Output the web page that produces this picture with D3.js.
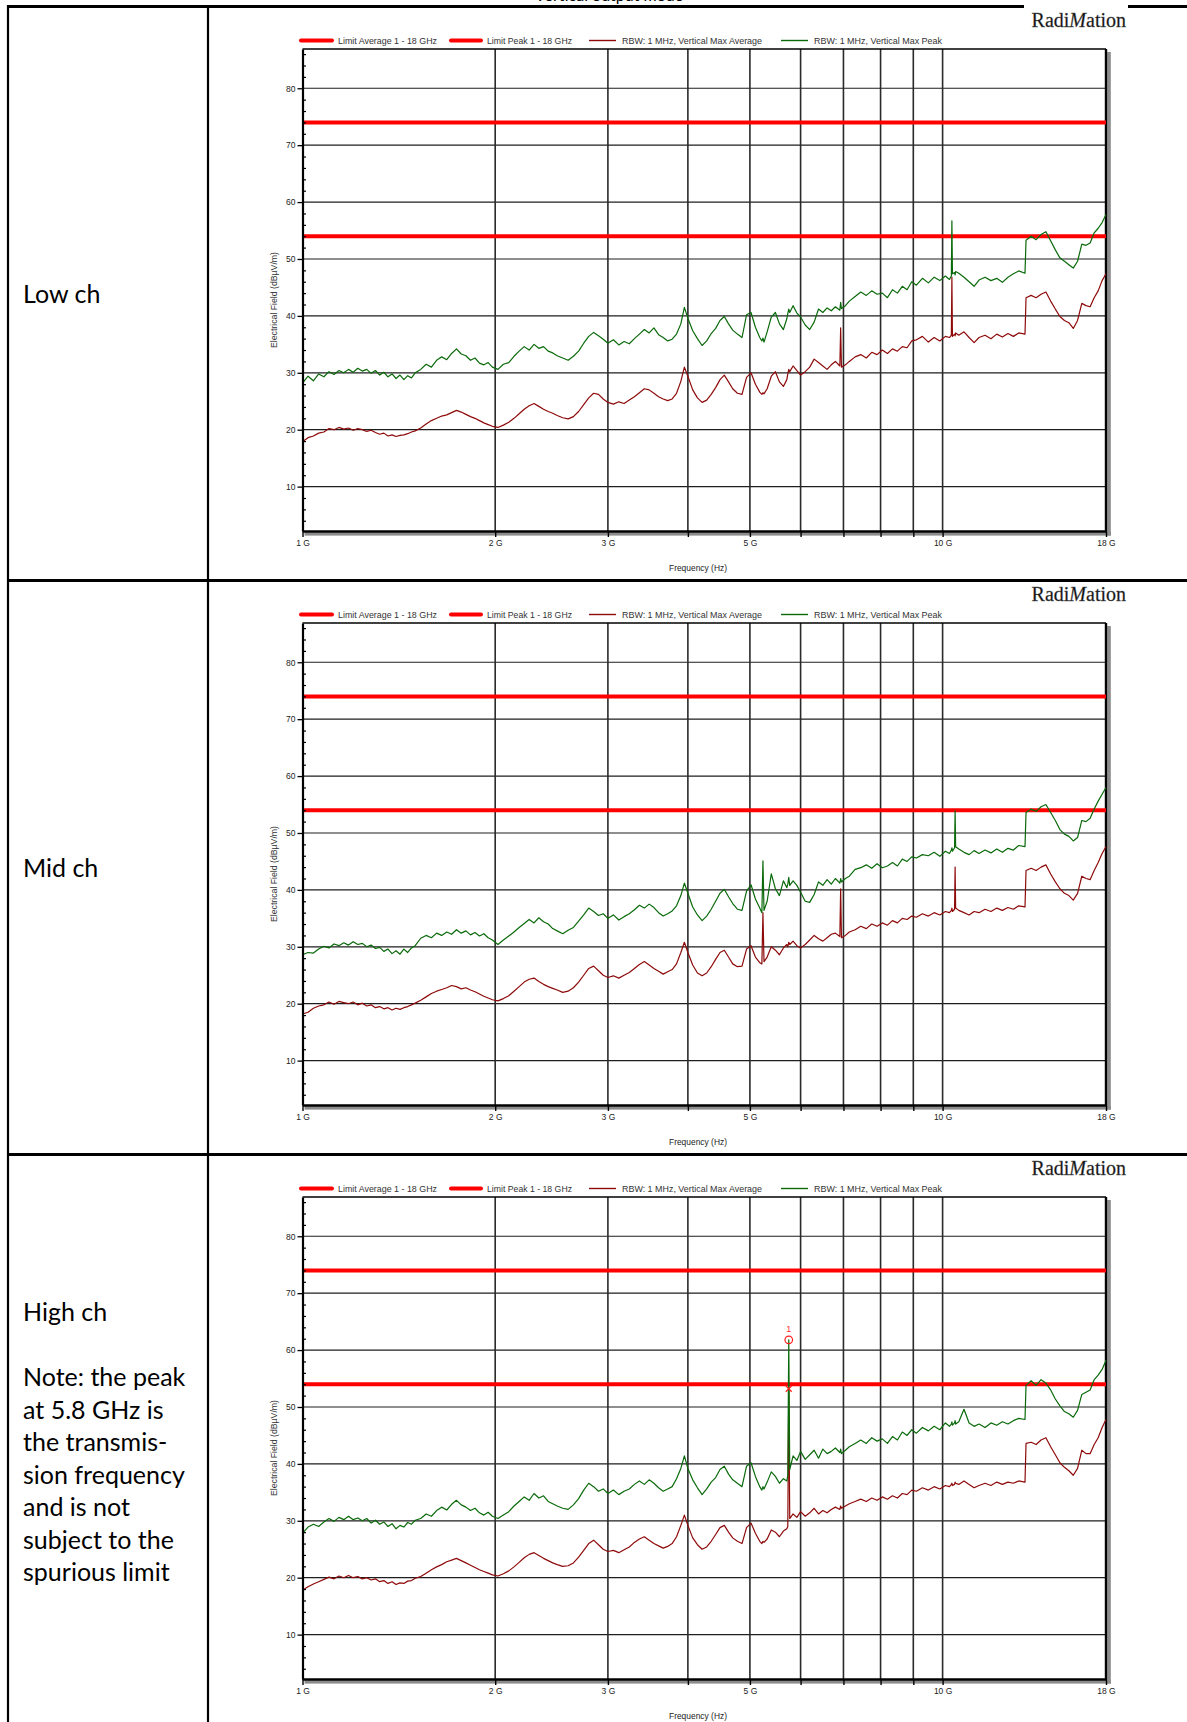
<!DOCTYPE html>
<html>
<head>
<meta charset="utf-8">
<script src="https://cdn.jsdelivr.net/npm/d3@7"></script>
<style>
  body { margin: 0; background: #fff; }
  svg { display: block; }
</style>
</head>
<body>
<script>
// * DATA (frequency grid in GHz, levels in dBµV/m)
const freqGHz = [
  1.00, 1.02, 1.04, 1.06, 1.08, 1.10, 1.12, 1.14, 1.16, 1.18, 1.20, 1.22, 1.24, 1.26, 1.28, 1.30, 1.32, 1.34, 1.36, 1.38, 1.40, 1.42, 1.44, 1.46, 1.48, 1.50,
  1.53, 1.56, 1.59, 1.62, 1.65, 1.68, 1.71, 1.74, 1.77, 1.80, 1.83, 1.86, 1.89, 1.92, 1.95, 1.98,
  2.02, 2.06, 2.10, 2.14, 2.18, 2.22, 2.26, 2.30, 2.34, 2.38, 2.42, 2.46,
  2.50, 2.55, 2.60, 2.65, 2.70, 2.75, 2.80, 2.85, 2.90, 2.95,
  3.00, 3.06, 3.12, 3.18, 3.24, 3.30, 3.36, 3.42, 3.48, 3.54, 3.60, 3.66, 3.72, 3.78, 3.84, 3.90,
  3.95, 4.00,
  4.07, 4.14, 4.21, 4.28, 4.35, 4.42, 4.49, 4.56, 4.63, 4.70,
  4.78, 4.86, 4.94, 5.02, 5.10, 5.18,
  5.22, 5.24, 5.26,
  5.32, 5.40, 5.48, 5.56, 5.64, 5.71,
  5.73, 5.75, 5.77,
  5.84, 5.92, 6.00, 6.10, 6.20, 6.30, 6.40, 6.50, 6.60, 6.70, 6.80,
  6.91, 6.93, 6.95,
  7.05, 7.15, 7.30, 7.45, 7.60, 7.75, 7.90, 8.05, 8.20, 8.35, 8.50, 8.65, 8.80, 8.95, 9.10, 9.30, 9.50, 9.70, 9.90, 10.10,
  10.25, 10.32, 10.34, 10.36,
  10.44, 10.46, 10.48,
  10.60, 10.80, 11.00, 11.20, 11.40, 11.65, 11.90, 12.15, 12.40, 12.65, 12.90, 13.15, 13.45,
  13.50,
  13.75, 14.00, 14.25, 14.50, 14.75, 15.00, 15.25, 15.50, 15.75, 16.00, 16.25, 16.50, 16.75, 17.00, 17.25, 17.50, 17.75, 18.00
];

const lowPeak = [
  28.2, 29.4, 28.6, 29.8, 29.3, 30.2, 29.7, 30.4, 30.0, 30.6, 30.1, 30.8, 30.3, 30.6, 29.9, 30.4, 29.6, 30.1, 29.3, 29.8, 29.0, 29.6, 28.8, 29.5, 29.1, 30.0,
  30.6, 31.5, 31.0, 32.2, 32.8, 32.3, 33.4, 34.2, 33.3, 33.0, 32.2, 32.6, 31.7, 31.4, 31.8, 31.0,
  30.6, 31.5, 31.8, 32.9, 33.8, 34.6, 34.0, 35.0, 34.3, 34.6, 33.8, 33.5,
  33.0, 32.6, 32.2, 32.9, 33.8, 35.2, 36.4, 37.1, 36.5, 35.9,
  35.2, 35.8, 34.9, 35.5, 35.1, 36.0, 36.8, 37.6, 37.0, 37.9, 36.7, 36.2, 35.6, 35.9, 36.8, 38.6,
  41.5, 39.6,
  37.4, 36.0, 34.8, 35.6, 36.9, 37.8, 39.2, 39.9, 38.6, 37.5,
  36.8, 36.2, 40.2, 40.6, 38.0, 36.2,
  35.6, 36.1, 35.4,
  37.2, 39.8, 40.6, 38.6, 37.6, 39.5,
  40.4, 41.2, 40.6,
  41.8, 40.5, 39.8, 38.4, 37.6, 38.9, 41.2, 40.6, 41.4, 40.9, 41.6,
  41.0, 42.4, 41.3,
  41.8, 42.6, 43.4, 44.2, 43.6, 44.4, 43.8, 44.0, 43.2, 44.6, 44.0, 45.2, 44.6, 46.0, 45.4, 46.6, 45.8, 46.8, 46.2, 47.0,
  46.4, 47.0, 56.7, 47.4,
  47.6, 47.2, 47.8,
  47.5, 46.8, 46.0, 45.2, 46.3, 46.8, 46.2, 46.6, 45.9, 46.8, 47.4, 47.9, 47.5,
  53.3,
  54.0, 53.4, 54.3, 54.8, 53.2, 51.6, 50.2, 49.6, 49.0, 48.4, 49.6, 52.6, 52.4, 52.8, 54.6, 55.4, 56.4, 57.8
];
const lowAvg = [
  17.9, 18.6, 18.9, 19.4, 19.6, 20.2, 20.0, 20.4, 20.1, 20.3, 19.9, 20.2, 20.0, 19.7, 19.9, 19.5, 19.2, 19.4, 18.9, 19.1, 18.8, 19.0, 19.1, 19.3, 19.6, 19.8,
  20.3, 21.0, 21.6, 22.0, 22.4, 22.6, 23.0, 23.4, 23.1, 22.7, 22.3, 22.0, 21.6, 21.2, 20.9, 20.6,
  20.4, 20.8, 21.3, 22.0, 22.8, 23.6, 24.2, 24.6, 24.1, 23.6, 23.2, 22.9,
  22.5, 22.1, 21.9, 22.3, 23.2, 24.4, 25.6, 26.4, 26.2, 25.4,
  24.8, 24.5, 24.9, 24.6, 25.2, 25.8, 26.5, 27.2, 27.0, 26.4, 25.8, 25.4, 25.1, 25.4, 26.4, 28.5,
  31.0, 29.4,
  27.0, 25.6, 24.8, 25.2, 26.2, 27.4, 28.8, 29.6, 28.4, 27.2,
  26.4, 26.2, 29.2, 30.0, 28.0, 26.6,
  26.2, 26.5, 26.3,
  27.2, 29.4, 30.2, 28.4, 27.6, 28.8,
  29.8, 30.6, 30.2,
  31.2, 30.4, 29.6, 30.2, 31.0, 32.4, 31.8, 31.2, 30.6, 31.4, 32.0,
  31.2, 37.9, 31.0,
  31.4, 32.0, 32.8, 33.2, 32.6, 33.6, 33.2, 34.0, 33.4, 34.2, 33.8, 34.6, 34.4, 35.6, 35.8, 36.4, 35.4, 36.2, 35.6, 36.4,
  36.2, 36.6, 46.8, 36.4,
  36.8, 36.5, 37.0,
  36.6, 37.2, 36.2, 35.3, 36.2, 36.6, 36.0, 36.8, 36.3, 36.9, 36.4, 37.0, 36.8,
  43.2,
  43.6, 43.2, 43.8, 44.2, 42.6, 41.2, 39.9, 39.2, 38.8, 37.8, 39.2, 42.2, 41.8, 41.6, 43.2, 44.4, 46.2, 47.4
];

const midPeak = [
  28.6, 29.0, 28.9, 29.6, 30.1, 29.8, 30.5, 30.2, 30.7, 30.3, 30.9, 30.4, 30.6, 30.0, 30.3, 29.7, 29.9, 29.2, 29.6, 28.8, 29.3, 28.7, 29.6, 29.0, 29.8, 30.2,
  31.5, 32.0, 31.6, 32.4, 32.0, 32.6, 32.2, 33.0, 32.4, 32.8, 32.1, 32.5, 31.9, 32.3, 31.6, 31.2,
  30.4, 31.2, 31.9, 32.6, 33.4, 34.1, 34.8, 34.2, 35.1, 34.4, 34.0, 33.2,
  32.8, 32.3, 32.9, 33.4, 34.5, 35.6, 36.8, 36.2, 35.5, 35.8,
  35.0, 35.6, 34.7, 35.3, 35.8, 36.5, 37.3, 36.8, 37.5, 36.9, 36.0, 35.4, 35.8, 36.3, 37.2, 39.0,
  41.2, 39.4,
  37.0, 35.6, 34.6, 35.4, 36.6, 38.0, 39.4, 40.1, 38.8, 37.6,
  36.6, 36.4, 39.8, 40.9, 38.4, 36.8,
  36.0, 45.1, 36.4,
  38.0, 42.8, 40.2, 39.0, 41.6, 40.4,
  41.0, 42.2, 40.8,
  41.6, 40.8, 39.6, 38.0, 37.8, 39.2, 41.4, 40.8, 41.8, 41.0, 42.0,
  41.2, 42.0, 41.4,
  42.0, 42.4, 43.6, 43.9, 44.4, 43.8, 44.6, 43.9, 44.2, 44.8, 44.2, 45.4, 45.0, 45.8, 45.6, 46.2, 46.0, 46.6, 45.9, 46.8,
  46.4, 47.0, 47.4, 46.8,
  47.4, 53.9, 47.6,
  47.2, 46.6, 46.2, 46.9, 46.4, 47.0, 46.5, 47.2, 46.6, 47.3, 47.0, 47.8, 47.6,
  53.6,
  54.2, 53.8, 54.6, 55.0, 53.6, 52.2, 50.6, 49.8, 49.4, 48.6, 49.2, 52.2, 52.0, 52.6, 54.2, 55.6, 56.8, 58.0
];
const midAvg = [
  18.2, 18.5, 19.2, 19.6, 19.8, 20.3, 19.9, 20.4, 20.2, 20.0, 20.3, 19.8, 20.1, 19.6, 19.8, 19.3, 19.5, 19.1, 19.3, 18.9, 19.2, 19.0, 19.3, 19.5, 19.8, 20.1,
  20.6, 21.2, 21.8, 22.2, 22.5, 22.8, 23.2, 23.0, 22.6, 22.8, 22.4, 22.1, 21.7, 21.3, 21.0, 20.7,
  20.5, 20.9, 21.4, 22.2, 23.0, 23.8, 24.3, 24.5, 23.9, 23.4, 23.0, 22.7,
  22.4, 22.0, 22.2, 22.8, 23.8, 25.0, 26.2, 26.6, 25.8, 25.0,
  24.6, 24.9, 24.5, 25.0, 25.5, 26.2, 26.9, 27.4, 26.8, 26.2, 25.7, 25.2, 25.6, 26.0, 27.0, 29.0,
  30.8, 29.0,
  26.8, 25.4, 24.9, 25.4, 26.5, 27.8, 29.0, 29.4, 28.2, 27.0,
  26.5, 26.6, 29.6, 30.2, 28.2, 27.2,
  27.0, 36.0, 27.4,
  28.2, 30.0, 29.4, 28.6, 29.8, 30.4,
  30.0, 30.8, 30.4,
  31.0, 30.2, 29.8, 30.4, 31.2, 32.0, 31.4, 31.0, 31.6, 32.2, 32.4,
  31.8, 40.2, 31.6,
  32.0, 32.6, 33.0, 33.6, 33.2, 34.0, 33.6, 34.2, 33.8, 34.6, 34.2, 35.0, 34.8, 35.4, 35.2, 35.8, 35.4, 36.0, 35.6, 36.2,
  36.0, 36.4, 36.8, 36.2,
  36.6, 44.0, 36.8,
  36.4, 36.0, 35.6, 36.2, 36.0, 36.6, 36.2, 36.8, 36.4, 36.9, 36.6, 37.2, 37.0,
  43.4,
  43.8, 43.4, 44.0, 44.4, 42.8, 41.4, 40.2, 39.4, 39.0, 38.2, 39.4, 42.4, 42.0, 41.8, 43.4, 44.8, 46.4, 47.6
];

const highPeak = [
  27.8, 28.9, 29.4, 29.0, 29.8, 30.4, 29.9, 30.6, 30.2, 30.8, 30.2, 30.5, 30.0, 30.4, 29.6, 30.1, 29.4, 29.8, 29.0, 29.5, 28.6, 29.2, 28.9, 29.7, 29.4, 30.1,
  30.4, 31.2, 30.8, 31.8, 32.4, 31.9, 32.9, 33.6, 32.8, 32.4, 31.8, 32.2, 31.4, 31.0, 31.5, 30.8,
  30.4, 31.0, 31.6, 32.6, 33.4, 34.2, 33.6, 34.8, 34.0, 34.4, 33.4, 33.0,
  32.6, 32.2, 32.0, 32.8, 33.9, 35.4, 36.6, 36.0, 35.2, 35.6,
  34.8, 35.4, 34.6, 35.2, 35.6, 36.4, 37.0, 36.4, 37.2, 36.6, 35.8, 35.2, 35.6, 36.0, 37.4, 39.2,
  41.4, 39.2,
  37.2, 35.8, 34.6, 35.6, 36.8, 37.6, 39.0, 39.6, 38.2, 37.2,
  36.6, 36.0, 39.6, 40.2, 37.8, 36.0,
  35.4, 36.0, 35.6,
  36.8, 38.6, 37.8, 36.6, 37.4, 37.0,
  38.0, 61.8, 39.0,
  41.4, 40.6, 42.2, 40.8, 41.6, 42.4, 41.0, 42.6, 41.8, 42.2, 42.8,
  42.0, 42.6, 41.8,
  42.4, 43.0, 43.6, 44.2, 43.6, 44.6, 44.0, 44.4, 43.6, 44.8, 44.2, 45.6, 45.0, 46.0, 45.4, 46.4, 45.8, 46.6, 46.0, 47.2,
  46.6, 47.0, 47.4, 46.8,
  47.2, 47.6, 47.0,
  47.4, 49.6, 47.2, 46.6, 47.0, 46.4, 47.2, 46.8, 47.4, 47.0, 47.6, 48.0, 47.8,
  53.8,
  54.6, 53.8, 54.8, 54.2, 53.0, 51.4, 50.2, 49.2, 48.8, 48.2, 49.4, 52.2, 52.6, 53.0, 54.8, 55.6, 56.6, 58.2
];
const highAvg = [
  17.8, 18.4, 18.9, 19.3, 19.7, 20.1, 19.8, 20.3, 20.0, 20.4, 20.0, 20.2, 19.8, 20.0, 19.6, 19.8, 19.3, 19.5, 19.0, 19.3, 18.8, 19.1, 19.0, 19.4, 19.5, 19.9,
  20.2, 20.8, 21.4, 21.9, 22.3, 22.8, 23.1, 23.4, 23.0, 22.6, 22.2, 21.8, 21.4, 21.1, 20.8, 20.5,
  20.3, 20.7, 21.2, 21.9, 22.7, 23.5, 24.1, 24.4, 23.9, 23.4, 23.0, 22.6,
  22.3, 22.0, 22.1, 22.6, 23.6, 24.8, 26.0, 26.6, 25.8, 25.0,
  24.6, 24.8, 24.4, 24.9, 25.4, 26.2, 26.8, 27.2, 26.6, 26.0, 25.6, 25.2, 25.5, 26.0, 27.2, 29.2,
  31.0, 29.2,
  27.0, 25.8, 25.0, 25.4, 26.4, 27.6, 28.8, 29.2, 28.0, 27.0,
  26.4, 26.0, 28.8, 29.6, 27.8, 26.4,
  26.0, 26.4, 26.2,
  26.8, 28.4, 28.0, 27.2, 28.2, 28.6,
  29.0, 53.2, 30.4,
  31.2, 30.6, 31.6, 30.8, 31.4, 32.2, 31.2, 31.8, 31.4, 32.0, 32.4,
  32.0, 32.6, 32.2,
  32.6, 33.0, 33.4, 33.8, 33.4, 34.0, 33.6, 34.2, 33.8, 34.4, 34.0, 34.8, 34.6, 35.4, 35.2, 35.8, 35.4, 36.0, 35.6, 36.2,
  36.0, 36.4, 36.6, 36.2,
  36.4, 36.8, 36.6,
  36.4, 37.0, 36.4, 35.8, 36.2, 36.6, 36.2, 36.8, 36.4, 36.8, 36.6, 37.0, 36.8,
  43.6,
  43.8, 43.4, 44.2, 44.6, 43.0, 41.6, 40.2, 39.4, 38.8, 38.0, 39.2, 42.4, 41.8, 41.8, 43.4, 44.6, 46.4, 47.8
];

const limitAverage = 54;
const limitPeak = 74;
const highMarker = { freq: 5.75, peak: 61.8, avg: 53.2, label: "1" };

const yTicks = [10, 20, 30, 40, 50, 60, 70, 80];
const yMinorTicks = [4, 6, 8, 12, 14, 16, 18, 22, 24, 26, 28, 32, 34, 36, 38, 42, 44, 46, 48, 52, 54, 56, 58, 62, 64, 66, 68, 72, 74, 76, 78, 82, 84, 86];
const xGridGHz = [1, 2, 3, 4, 5, 6, 7, 8, 9, 10, 18];
const xLabelGHz = [1, 2, 3, 5, 10, 18];
const legendLabels = ["Limit Average 1 - 18 GHz", "Limit Peak 1 - 18 GHz", "RBW: 1 MHz, Vertical Max Average", "RBW: 1 MHz, Vertical Max Peak"];
const rowNames = ["Low ch", "Mid ch", "High ch"];
const noteLines = ["Note: the peak", "at 5.8 GHz is", "the transmis-", "sion frequency", "and is not", "subject to the", "spurious limit"];

// * LAYOUT
const W = 1187, H = 1722;
const rowStep = 574;
const rowTop = 6.5;
const colX = [8, 208];
const avgColor = "#8e0a0a", peakColor = "#0a6a0a", limitColor = "#ff0000";
const smallFont = "Liberation Sans, Arial, sans-serif";

const series = [
  { name: rowNames[0], avg: lowAvg, peak: lowPeak },
  { name: rowNames[1], avg: midAvg, peak: midPeak },
  { name: rowNames[2], avg: highAvg, peak: highPeak, marker: highMarker }
];
series.forEach((s) => {
  if (s.avg.length !== freqGHz.length || s.peak.length !== freqGHz.length)
    console.error("length mismatch", s.name, s.avg.length, s.peak.length, freqGHz.length);
});

const svg = d3.select("body").append("svg").attr("width", W).attr("height", H);

// * TITLE (cut by the page top)
svg.append("text")
  .attr("x", 609).attr("y", 0.5)
  .attr("text-anchor", "middle")
  .attr("font-family", "Lato, sans-serif")
  .attr("font-size", 16)
  .text("Vertical output mode");

function drawPanel(g, s) {
  const x = d3.scaleLog().domain([1, 18]).range([302.5, 1106]);
  const y = d3.scaleLinear().domain([2.2, 86.9]).range([531, 49]);
  const [x0, x1] = x.range();
  const [yb, yt] = y.range();

  // shadow of the frame
  g.append("rect").attr("x", x0 + 2).attr("y", yb + 1.2)
    .attr("width", x1 - x0 + 3).attr("height", 3.4).attr("fill", "#8c8c8c");
  g.append("rect").attr("x", x1 + 1.2).attr("y", yt + 3)
    .attr("width", 3.6).attr("height", yb - yt + 1.5).attr("fill", "#8c8c8c");

  // grid
  g.append("g").selectAll("line").data(yTicks).join("line")
    .attr("x1", x0).attr("x2", x1)
    .attr("y1", (d) => y(d)).attr("y2", (d) => y(d))
    .attr("stroke", "#1e1e1e").attr("stroke-width", 1.2);
  g.append("g").selectAll("line").data(xGridGHz.slice(1, -1)).join("line")
    .attr("x1", (d) => x(d)).attr("x2", (d) => x(d))
    .attr("y1", yt).attr("y2", yb)
    .attr("stroke", "#2a2a2a").attr("stroke-width", 1.6);
  g.append("line").attr("x1", x0).attr("x2", x1).attr("y1", yt).attr("y2", yt)
    .attr("stroke", "#000").attr("stroke-width", 1.3);
  g.append("line").attr("x1", x1).attr("x2", x1).attr("y1", yt).attr("y2", yb)
    .attr("stroke", "#000").attr("stroke-width", 2.4);

  // limits
  g.append("g").selectAll("line").data([limitPeak, limitAverage]).join("line")
    .attr("x1", x0).attr("x2", x1)
    .attr("y1", (d) => y(d)).attr("y2", (d) => y(d))
    .attr("stroke", limitColor).attr("stroke-width", 4);

  // traces
  const line = d3.line().x((d, i) => x(freqGHz[i])).y((d) => y(d));
  g.append("path").datum(s.avg).attr("d", line)
    .attr("fill", "none").attr("stroke", avgColor).attr("stroke-width", 1.2).attr("stroke-linejoin", "round");
  g.append("path").datum(s.peak).attr("d", line)
    .attr("fill", "none").attr("stroke", peakColor).attr("stroke-width", 1.2).attr("stroke-linejoin", "round");

  // marker
  if (s.marker) {
    const mx = x(s.marker.freq);
    g.append("circle").attr("cx", mx).attr("cy", y(s.marker.peak)).attr("r", 3.8)
      .attr("fill", "none").attr("stroke", "#ff2020").attr("stroke-width", 1.2);
    const my = y(s.marker.avg);
    g.append("path").attr("d", `M${mx - 3},${my - 3}L${mx + 3},${my + 3}M${mx - 3},${my + 3}L${mx + 3},${my - 3}`)
      .attr("stroke", "#ff2020").attr("stroke-width", 1.2);
    g.append("text").attr("x", mx).attr("y", y(s.marker.peak) - 8)
      .attr("text-anchor", "middle").attr("font-family", smallFont).attr("font-size", 9)
      .attr("fill", "#ff3030").text(s.marker.label);
  }

  // axes
  const yAxis = g.append("g").attr("transform", `translate(${x0},0)`)
    .call(d3.axisLeft(y).tickValues(yTicks).tickSize(5).tickSizeOuter(0).tickPadding(2).tickFormat(d3.format("d")));
  yAxis.attr("font-family", smallFont).attr("font-size", 8.5);
  yAxis.select(".domain").attr("stroke-width", 2.2);
  yAxis.selectAll(".tick line").attr("stroke-width", 1.3);
  yAxis.selectAll("text").attr("fill", "#222");

  const yMinor = g.append("g").attr("transform", `translate(${x0},0)`)
    .call(d3.axisRight(y).tickValues(yMinorTicks).tickSize(3.5).tickFormat(""));
  yMinor.select(".domain").remove();
  yMinor.selectAll("line").attr("stroke-width", 1.2);

  const xAxis = g.append("g").attr("transform", `translate(0,${yb})`)
    .call(d3.axisBottom(x).tickValues(xGridGHz).tickSize(6).tickSizeOuter(0).tickPadding(3)
      .tickFormat((d) => (xLabelGHz.includes(d) ? d + " G" : "")));
  xAxis.attr("font-family", smallFont).attr("font-size", 8.5);
  xAxis.select(".domain").attr("stroke-width", 2.4);
  xAxis.selectAll("line").attr("stroke-width", 1.4);
  xAxis.selectAll("text").attr("fill", "#222");

  g.append("text")
    .attr("transform", "translate(277,300) rotate(-90)")
    .attr("text-anchor", "middle")
    .attr("font-family", smallFont).attr("font-size", 8.5)
    .attr("textLength", 96).attr("lengthAdjust", "spacingAndGlyphs")
    .attr("fill", "#333")
    .text("Electrical Field (dBµV/m)");
  g.append("text")
    .attr("x", 698).attr("y", 570.5)
    .attr("text-anchor", "middle")
    .attr("font-family", smallFont).attr("font-size", 8.5)
    .attr("textLength", 58).attr("lengthAdjust", "spacingAndGlyphs")
    .attr("fill", "#222")
    .text("Frequency (Hz)");

  // legend
  const swX = [301, 451, 589, 781];
  const swLen = [31, 30, 27, 27];
  const txtLen = [99, 85, 140, 128];
  const swColor = [limitColor, limitColor, avgColor, peakColor];
  const swWidth = [4, 4, 1.4, 1.4];
  const items = g.append("g").selectAll("g").data(legendLabels).join("g");
  items.append("line")
    .attr("x1", (d, i) => swX[i]).attr("x2", (d, i) => swX[i] + swLen[i])
    .attr("y1", 40.5).attr("y2", 40.5)
    .attr("stroke", (d, i) => swColor[i]).attr("stroke-width", (d, i) => swWidth[i])
    .attr("stroke-linecap", (d, i) => (i < 2 ? "round" : "butt"));
  items.append("text")
    .attr("x", (d, i) => swX[i] + swLen[i] + 6).attr("y", 43.6)
    .attr("font-family", smallFont).attr("font-size", 9)
    .attr("textLength", (d, i) => txtLen[i]).attr("lengthAdjust", "spacingAndGlyphs")
    .attr("fill", "#333")
    .text((d) => d);

  // logo
  const logo = g.append("text").attr("x", 1126).attr("y", 27.3)
    .attr("text-anchor", "end")
    .attr("font-family", "Liberation Serif, Times New Roman, serif")
    .attr("font-size", 20).attr("fill", "#111")
    .attr("stroke", "#555").attr("stroke-width", 0.3);
  logo.append("tspan").text("Radi");
  logo.append("tspan").attr("font-style", "italic").text("M");
  logo.append("tspan").text("ation");
}

series.forEach((s, i) => {
  const g = svg.append("g").attr("transform", `translate(0,${i * rowStep})`);
  drawPanel(g, s);
});

// * TABLE
const table = svg.append("g").attr("stroke", "#000");
table.append("line").attr("x1", colX[0]).attr("x2", W).attr("y1", rowTop).attr("y2", rowTop).attr("stroke-width", 2.8);
[1, 2].forEach((i) => {
  table.append("line").attr("x1", colX[0]).attr("x2", W)
    .attr("y1", rowTop + i * rowStep).attr("y2", rowTop + i * rowStep).attr("stroke-width", 2.8);
});
colX.forEach((cx) => {
  table.append("line").attr("x1", cx).attr("x2", cx).attr("y1", rowTop - 1.4).attr("y2", H).attr("stroke-width", 2.2);
});
// white box of the logo over the top border
svg.append("rect").attr("x", 1024).attr("y", 3).attr("width", 104).attr("height", 9).attr("fill", "#fff");

// row labels
const labelFont = "Lato, 'Open Sans', sans-serif";
[303, 303 + rowStep].forEach((yy, i) => {
  svg.append("text").attr("x", 23).attr("y", yy)
    .attr("font-family", labelFont).attr("font-size", 25).text(rowNames[i]);
});
svg.append("text").attr("x", 23).attr("y", 1321)
  .attr("font-family", labelFont).attr("font-size", 25).text(rowNames[2]);
svg.append("g").selectAll("text").data(noteLines).join("text")
  .attr("x", 23).attr("y", (d, i) => 1386 + i * 32.5)
  .attr("font-family", labelFont).attr("font-size", 25)
  .text((d) => d);
</script>
</body>
</html>
